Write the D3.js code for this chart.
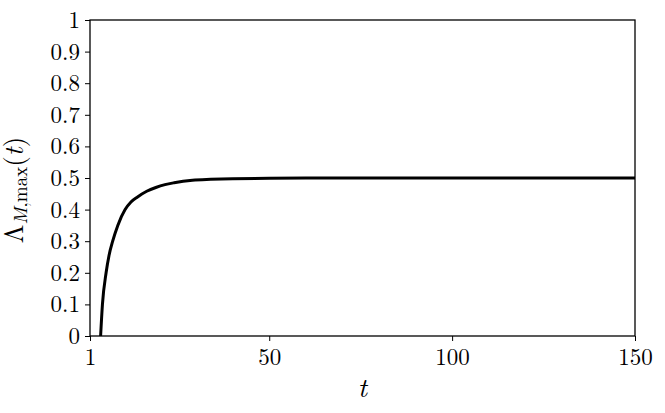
<!DOCTYPE html>
<html>
<head>
<meta charset="utf-8">
<script src="https://cdn.jsdelivr.net/npm/d3@7"></script>
<style>
  html, body { margin: 0; padding: 0; background: #fff; }
  svg { display: block; }
</style>
</head>
<body>
<svg id="chart" width="665" height="413"></svg>
<script>
// Data
const tValues = [3.9, 4.4, 5.4, 6.2, 7.2, 8.6, 10.6, 12.2, 14.0, 16.5, 19.0, 21.5, 24.0, 29.0, 34, 40, 50, 60, 80, 100, 125, 150];
const lambdaValues = [0, 0.1, 0.2, 0.255, 0.3, 0.35, 0.4, 0.424, 0.44, 0.458, 0.47, 0.479, 0.485, 0.493, 0.496, 0.498, 0.499, 0.5, 0.5, 0.5, 0.5, 0.5];
const xTicks = [1, 50, 100, 150];
const yTicks = [0, 0.1, 0.2, 0.3, 0.4, 0.5, 0.6, 0.7, 0.8, 0.9, 1];
const yTickLabels = ["0", "0.1", "0.2", "0.3", "0.4", "0.5", "0.6", "0.7", "0.8", "0.9", "1"];

const FONT = "'Latin Modern Roman'";

const svg = d3.select("#chart");
const margin = { left: 90, top: 20, right: 30, bottom: 77 };
const W = 665, H = 413;
const x0 = margin.left, x1 = W - margin.right, y0 = H - margin.bottom, y1 = margin.top;

const x = d3.scaleLinear().domain([1, 150]).range([x0, x1]);
const y = d3.scaleLinear().domain([0, 1]).range([y0, y1]);

// y axis
const yAxis = d3.axisLeft(y).tickValues(yTicks).tickSize(5).tickSizeOuter(0)
  .tickFormat((d, i) => yTickLabels[i]);
const gy = svg.append("g").attr("transform", `translate(${x0},0)`).call(yAxis);
gy.attr("font-family", null).attr("font-size", null);
gy.select(".domain").remove();
gy.selectAll(".tick line").attr("stroke", "#000").attr("stroke-width", 1);
gy.selectAll(".tick text").attr("x", -10).attr("dy", "0.33em")
  .attr("fill", "#000").style("font-family", FONT).style("font-size", "23px");

// x axis
const xAxis = d3.axisBottom(x).tickValues(xTicks).tickSize(5).tickSizeOuter(0)
  .tickFormat(d3.format("d"));
const gx = svg.append("g").attr("transform", `translate(0,${y0})`).call(xAxis);
gx.attr("font-family", null).attr("font-size", null);
gx.select(".domain").remove();
gx.selectAll(".tick line").attr("stroke", "#000").attr("stroke-width", 1);
gx.selectAll(".tick text").attr("y", 29).attr("dy", 0)
  .attr("fill", "#000").style("font-family", FONT).style("font-size", "23px");

// curve
const line = d3.line()
  .x((d, i) => x(tValues[i]))
  .y((d) => y(d))
  .curve(d3.curveMonotoneX);
svg.append("path")
  .datum(lambdaValues)
  .attr("d", line)
  .attr("fill", "none")
  .attr("stroke", "#000")
  .attr("stroke-width", 3)
  .attr("stroke-linejoin", "round");

// frame
svg.append("rect")
  .attr("x", x0).attr("y", y1)
  .attr("width", x1 - x0).attr("height", y0 - y1)
  .attr("fill", "none").attr("stroke", "#000").attr("stroke-width", 1.3);

// x label
svg.append("text")
  .attr("x", (x0 + x1) / 2).attr("y", 397)
  .attr("text-anchor", "middle")
  .style("font-family", FONT)
  .style("font-size", "28px").style("font-style", "italic")
  .text("t");

// y label
const yl = svg.append("text")
  .attr("transform", "translate(23,190) rotate(-90)")
  .attr("text-anchor", "middle")
  .style("font-family", FONT)
  .style("font-size", "27px");
yl.append("tspan").text("Λ");
yl.append("tspan").attr("dy", 4).style("font-size", "19px").style("font-style", "italic").text("M");
yl.append("tspan").attr("dy", 0).style("font-size", "19px").text(",max");
yl.append("tspan").attr("dy", -4).text("(");
yl.append("tspan").style("font-style", "italic").text("t");
yl.append("tspan").text(")");
</script>
</body>
</html>
